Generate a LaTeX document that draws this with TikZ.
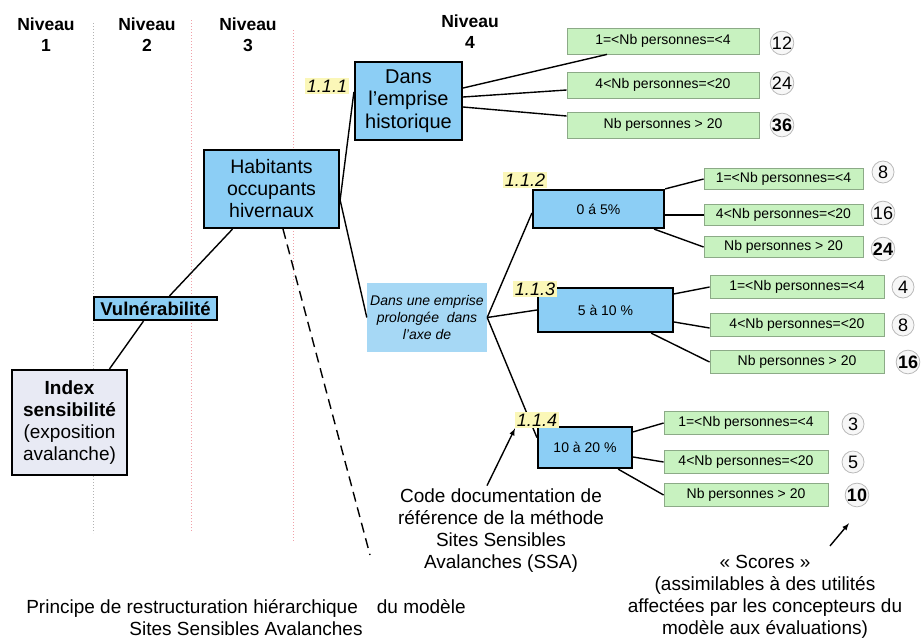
\documentclass[tikz,border=0pt]{standalone}
\usepackage{fontspec}
\setmainfont{Liberation Sans}
\definecolor{boxblue}{RGB}{140,206,245}
\definecolor{extblue}{RGB}{166,216,245}
\definecolor{idxfill}{RGB}{232,234,244}
\definecolor{grnfill}{RGB}{200,242,192}
\definecolor{grnline}{RGB}{140,170,135}
\definecolor{labyellow}{RGB}{251,247,184}
\definecolor{pinkline}{RGB}{240,160,168}
\begin{document}
\begin{tikzpicture}[x=1pt,y=-1pt,
  niveau/.style={font=\fontsize{17.5}{21}\selectfont\bfseries,align=center},
  bluebox/.style={draw=black,line width=2.2pt,fill=boxblue,align=center,inner sep=0pt},
  greenbox/.style={draw=grnline,line width=0.8pt,fill=grnfill,font=\fontsize{14}{16}\selectfont,inner sep=0pt},
  score/.style={circle,draw=gray!55,fill=gray!6,line width=0.8pt,font=\fontsize{18}{20}\selectfont,inner sep=0pt,minimum size=22pt},
  code/.style={fill=labyellow,font=\fontsize{18}{20}\selectfont\itshape,inner sep=2pt},
  note/.style={font=\fontsize{19}{22}\selectfont,align=center},
  link/.style={line width=1.4pt},
  vline/.style={dotted,line width=1pt}]
\useasboundingbox (0,0) rectangle (921,641);
% niveaux
\node[niveau] (n1) at (46,35) {Niveau\\1};
\node[niveau] (n2) at (147,35) {Niveau\\2};
\node[niveau] (n3) at (248,35) {Niveau\\3};
\node[niveau] (n4) at (470,32) {Niveau\\4};
\draw[vline,gray!60] (93,23) -- (93,533);
\draw[vline,pinkline] (191,20) -- (191,532);
\draw[vline,pinkline] (293,30) -- (293,542);
% arbre
\node[bluebox,fill=idxfill,minimum width=115pt,minimum height=105pt,font=\fontsize{19}{22}\selectfont] (idx) at (69.5,422.5) {\textbf{Index}\\\textbf{sensibilité}\\(exposition\\avalanche)};
\node[bluebox,minimum width=123pt,minimum height=23pt,font=\fontsize{18.5}{21}\selectfont\bfseries] (vul) at (155.5,308.5) {Vulnérabilité};
\node[bluebox,minimum width=135pt,minimum height=78pt,font=\fontsize{19.5}{22}\selectfont] (hab) at (271.5,189) {Habitants\\occupants\\hivernaux};
\node[bluebox,minimum width=107pt,minimum height=78pt,font=\fontsize{20}{22.5}\selectfont] (hist) at (408.5,101) {Dans\\l'emprise\\historique};
\node[fill=extblue,align=center,inner sep=0pt,minimum width=120pt,minimum height=69pt,font=\fontsize{14}{17}\selectfont\itshape] (ext) at (427,317.5) {Dans une emprise\\prolongée~~dans\\l'axe de};
\node[bluebox,minimum width=131pt,minimum height=38pt,font=\fontsize{14}{16}\selectfont] (b5) at (598.5,209) {0 á 5\%};
\node[bluebox,minimum width=135pt,minimum height=44pt,font=\fontsize{14}{16}\selectfont] (b10) at (605.5,310) {5 à 10 \%};
\node[bluebox,minimum width=94pt,minimum height=41pt,font=\fontsize{14}{16}\selectfont] (b20) at (585,447.5) {10 à 20 \%};
% classes d'effectif
\node[greenbox,minimum width=192pt,minimum height=26pt] (g11) at (663,41) {1=<Nb personnes=<4};
\node[greenbox,minimum width=192pt,minimum height=26pt] (g12) at (663,85) {4<Nb personnes=<20};
\node[greenbox,minimum width=192pt,minimum height=26pt] (g13) at (663,125) {Nb personnes > 20};
\node[greenbox,minimum width=159pt,minimum height=21pt] (g21) at (783.5,179) {1=<Nb personnes=<4};
\node[greenbox,minimum width=159pt,minimum height=21pt] (g22) at (783.5,215) {4<Nb personnes=<20};
\node[greenbox,minimum width=159pt,minimum height=21pt] (g23) at (783.5,247) {Nb personnes > 20};
\node[greenbox,minimum width=174pt,minimum height=23pt] (g31) at (797,287) {1=<Nb personnes=<4};
\node[greenbox,minimum width=174pt,minimum height=23pt] (g32) at (797,325) {4<Nb personnes=<20};
\node[greenbox,minimum width=174pt,minimum height=23pt] (g33) at (797,362) {Nb personnes > 20};
\node[greenbox,minimum width=164pt,minimum height=23pt] (g41) at (746,423) {1=<Nb personnes=<4};
\node[greenbox,minimum width=164pt,minimum height=23pt] (g42) at (746,462) {4<Nb personnes=<20};
\node[greenbox,minimum width=164pt,minimum height=23pt] (g43) at (746,495) {Nb personnes > 20};
% scores
\node[score] (s11) at (782,43) {12};
\node[score] (s12) at (782,83) {24};
\node[score,font=\fontsize{18}{20}\selectfont\bfseries] (s13) at (782,125) {36};
\node[score] (s21) at (883,172) {8};
\node[score] (s22) at (883,213) {16};
\node[score,font=\fontsize{18}{20}\selectfont\bfseries] (s23) at (883,249) {24};
\node[score] (s31) at (903,287) {4};
\node[score] (s32) at (903,325) {8};
\node[score,font=\fontsize{18}{20}\selectfont\bfseries] (s33) at (908,362) {16};
\node[score] (s41) at (853,424) {3};
\node[score] (s42) at (853,462) {5};
\node[score,font=\fontsize{18}{20}\selectfont\bfseries] (s43) at (857,495) {10};
% liens
\draw[link] ([xshift=40pt]idx.north) -- ([xshift=-12pt]vul.south);
\draw[link] ([xshift=14pt]vul.north) -- ([xshift=-39pt]hab.south);
\draw[link] ([yshift=-11pt]hab.east) -- ([yshift=9pt]hist.west);
\draw[link] ([yshift=-11pt]hab.east) -- (ext.west);
\coordinate (dashend) at (370,555);
\draw[link,dash pattern=on 10pt off 6pt] ([xshift=11.5pt]hab.south) -- (dashend);
\draw[link] ([yshift=13pt]hist.east) -- ([xshift=-56pt]g11.south);
\draw[link] ([yshift=4pt]hist.east) -- ([yshift=-5pt]g12.west);
\draw[link] ([yshift=-6pt]hist.east) -- ([yshift=9pt]g13.west);
\draw[link] (ext.east) -- ([yshift=-4pt]b5.west);
\draw[link] (ext.east) -- (b10.west);
\draw[link] (ext.east) -- ([yshift=10pt]b20.west);
\draw[link] (b5.north east) -- (g21.west);
\draw[link] ([yshift=-6pt]b5.east) -- (g22.west);
\draw[link] ([xshift=-11pt]b5.south east) -- (g23.west);
\draw[link] ([yshift=-7pt]b10.north east) -- (g31.west);
\draw[link] ([yshift=-12pt]b10.east) -- ([yshift=-3pt]g32.west);
\draw[link] ([xshift=-23pt]b10.south east) -- (g33.west);
\draw[link] ([yshift=-6pt]b20.north east) -- (g41.west);
\draw[link] ([yshift=-9.5pt]b20.east) -- (g42.west);
\draw[link] ([xshift=-15pt]b20.south east) -- (g43.west);
% codes
\node[code] (l1) at (327,86) {1.1.1};
\node[code] (l2) at (525,180) {1.1.2};
\node[code] (l3) at (535,289) {1.1.3};
\node[code] (l4) at (537,420) {1.1.4};
% textes
\node[note] (codedoc) at (501,531) {Code documentation de\\référence de la méthode\\Sites Sensibles\\Avalanches (SSA)};
\node[note] (scores) at (765,597) {«~Scores~»\\(assimilables à des utilités\\affectées par les concepteurs du\\modèle aux évaluations)};
\node[note] (title) at (246,618) {Principe de restructuration hiérarchique\quad du modèle\\Sites Sensibles Avalanches};
\draw[link,-latex] ([xshift=-14pt]codedoc.north) -- ([xshift=-22pt]l4.south);
\draw[link,-latex] ([xshift=65pt,yshift=6pt]scores.north) -- ([xshift=-8pt,yshift=-16pt]s43.south);
\end{tikzpicture}
\end{document}
